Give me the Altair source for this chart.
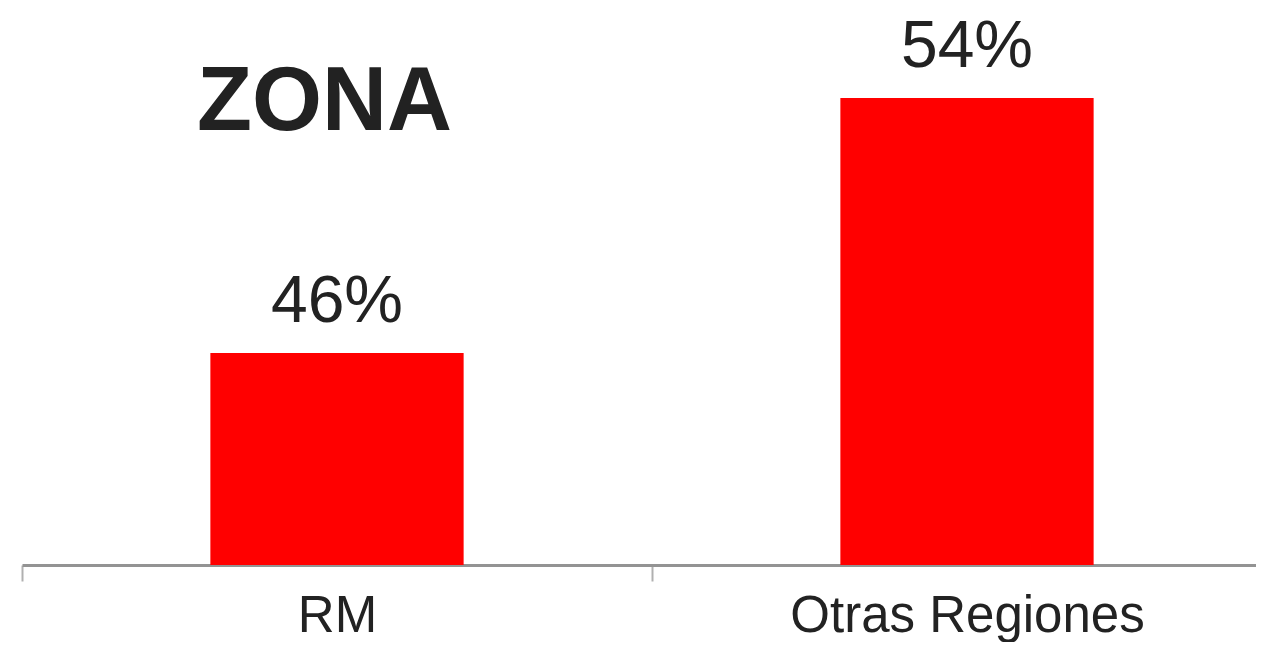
import altair as alt
import pandas as pd

categories = ["RM", "Otras Regiones"]
values = [46, 54]
labels = ["46%", "54%"]

df = pd.DataFrame({"zona": categories, "pct": values, "label": labels})

FONT = "Liberation Sans"
y_scale = alt.Scale(domain=[39.35, 56.82], zero=False, nice=False)
x_scale = alt.Scale(domain=categories, range=[0, 1260], paddingInner=0.598,
                    paddingOuter=0.299, align=0.5)

base = alt.Chart(df).encode(
    x=alt.X("zona:N", sort=categories, scale=x_scale,
            axis=alt.Axis(title=None, labelAngle=0, labelFont=FONT, labelFontSize=51,
                          labelColor="#222222", labelPadding=10, labelLimit=0,
                          tickOffset=-315, labelOffset=315,
                          domainColor="#939393", domainWidth=3, tickColor="#b0b0b0",
                          tickWidth=2, tickSize=16)),
)

bars = base.mark_bar(color="#ff0000", clip=True).encode(
    y=alt.Y("pct:Q", scale=y_scale, stack=None, axis=None),
)

text = base.mark_text(baseline="alphabetic", dy=-31, font=FONT, fontSize=66,
                      color="#222222").encode(
    y=alt.Y("pct:Q", scale=y_scale, stack=None, axis=None),
    text="label:N",
)

chart = alt.layer(bars, text).properties(
    width=1234, height=557,
    autosize=alt.AutoSizeParams(type="none"),
    padding={"left": 14, "top": 0, "right": 0, "bottom": 77},
    title=alt.TitleParams("ZONA", anchor="start", font=FONT, fontSize=90,
                          fontWeight="bold", color="#222222", baseline="alphabetic",
                          offset=0, dx=176, dy=212),
).configure_view(stroke=None)

chart.save("out.html", embed_options={"renderer": "svg", "actions": False})
